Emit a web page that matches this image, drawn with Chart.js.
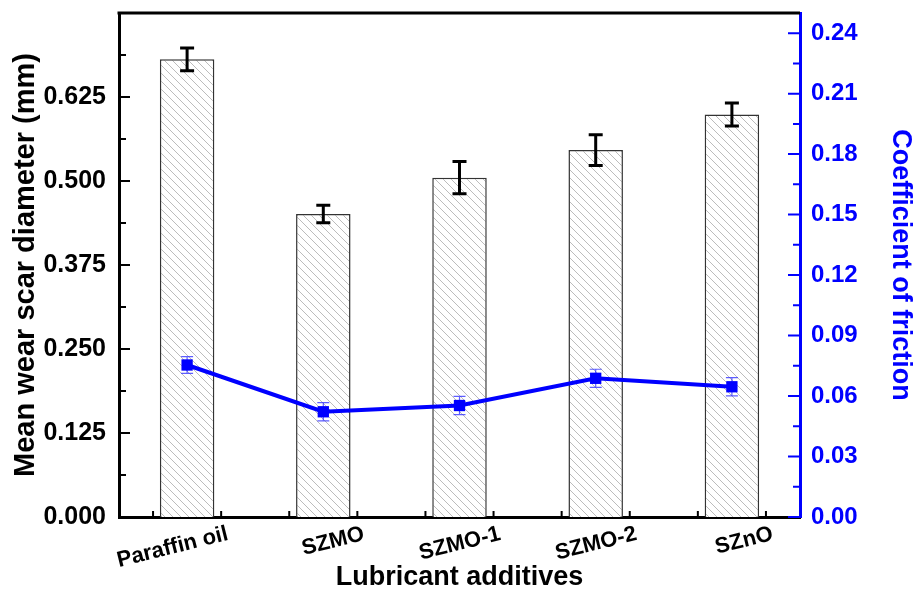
<!DOCTYPE html>
<html>
<head>
<meta charset="utf-8">
<script src="https://cdn.jsdelivr.net/npm/chart.js@4.4.1/dist/chart.umd.min.js"></script>
<style>
  html, body { margin: 0; padding: 0; background: #fff; }
  #wrap { width: 917px; height: 594px; }
</style>
</head>
<body>
<div id="wrap"><canvas id="wearChart"></canvas></div>
<script>
const additives = ['Paraffin oil', 'SZMO', 'SZMO-1', 'SZMO-2', 'SZnO'];
const scarDiameter = [0.681, 0.451, 0.505, 0.546, 0.599];
const scarError = [0.017, 0.013, 0.024, 0.023, 0.017];
const friction = [0.0754, 0.0522, 0.0553, 0.0688, 0.0646];
const frictionError = [0.0042, 0.0045, 0.0045, 0.0045, 0.0045];
const scarTicks = [0, 0.125, 0.25, 0.375, 0.5, 0.625];
const frictionTicks = [0, 0.03, 0.06, 0.09, 0.12, 0.15, 0.18, 0.21, 0.24];

const FONT = 'Arial, "Liberation Sans", sans-serif';
const BLUE = '#0000ff';

// diagonal hatch used to fill the bars
function hatch() {
  const n = 8;
  const c = document.createElement('canvas');
  c.width = n; c.height = n;
  const g = c.getContext('2d');
  g.fillStyle = '#fff';
  g.fillRect(0, 0, n, n);
  g.strokeStyle = '#b4b4b4';
  g.lineWidth = 0.9;
  g.beginPath();
  g.moveTo(-1, -1); g.lineTo(n + 1, n + 1);
  g.moveTo(-1, n - 1); g.lineTo(1, n + 1);
  g.moveTo(n - 1, -1); g.lineTo(n + 1, 1);
  g.stroke();
  return g.createPattern(c, 'repeat');
}

function fixedTicks(list) {
  return scale => { scale.ticks = list.map(v => ({ value: v })); };
}

// keep the plot box fixed, whatever the tick labels need
function fixSize(w, h) {
  return s => {
    if (w) s.width = w;
    if (h) s.height = h;
    s.paddingTop = 0; s.paddingBottom = 0;
    s.paddingLeft = 0; s.paddingRight = 0;
  };
}

const errorBars = {
  id: 'errorBars',
  afterDatasetDraw(chart, args) {
    if (args.index !== 0) return;
    const {ctx} = chart;
    const y = chart.scales.y;
    const meta = chart.getDatasetMeta(0);
    ctx.save();
    ctx.strokeStyle = '#000';
    ctx.lineWidth = 3;
    meta.data.forEach((bar, i) => {
      const top = y.getPixelForValue(scarDiameter[i] + scarError[i]);
      const bot = y.getPixelForValue(scarDiameter[i] - scarError[i]);
      ctx.beginPath();
      ctx.moveTo(bar.x, top); ctx.lineTo(bar.x, bot);
      ctx.moveTo(bar.x - 7, top); ctx.lineTo(bar.x + 7, top);
      ctx.moveTo(bar.x - 7, bot); ctx.lineTo(bar.x + 7, bot);
      ctx.stroke();
    });
    ctx.restore();
  },
  beforeDatasetDraw(chart, args) {
    if (args.index !== 1) return;
    const {ctx} = chart;
    const y1 = chart.scales.y1;
    const meta = chart.getDatasetMeta(1);
    ctx.save();
    ctx.strokeStyle = 'rgba(40,40,255,0.75)';
    ctx.lineWidth = 1.2;
    meta.data.forEach((pt, i) => {
      const top = y1.getPixelForValue(friction[i] + frictionError[i]);
      const bot = y1.getPixelForValue(friction[i] - frictionError[i]);
      ctx.beginPath();
      ctx.moveTo(pt.x, top); ctx.lineTo(pt.x, bot);
      ctx.moveTo(pt.x - 6, top); ctx.lineTo(pt.x + 6, top);
      ctx.moveTo(pt.x - 6, bot); ctx.lineTo(pt.x + 6, bot);
      ctx.stroke();
    });
    ctx.restore();
  }
};

// inward tick marks, frame top line and slanted category labels
const frame = {
  id: 'frame',
  afterDraw(chart) {
    const {ctx, chartArea: a, scales} = chart;
    const {x, y, y1} = scales;
    ctx.save();

    ctx.strokeStyle = '#000';
    ctx.lineWidth = 3;
    ctx.beginPath();
    ctx.moveTo(a.left - 1.5, a.top); ctx.lineTo(a.right, a.top);
    ctx.stroke();

    ctx.lineWidth = 2;
    ctx.beginPath();
    scarTicks.forEach(v => {
      const py = y.getPixelForValue(v);
      ctx.moveTo(a.left, py); ctx.lineTo(a.left + 11, py);
      if (v + 0.0625 < y.max) {
        const pm = y.getPixelForValue(v + 0.0625);
        ctx.moveTo(a.left, pm); ctx.lineTo(a.left + 7, pm);
      }
    });
    const step = x.getPixelForValue(1) - x.getPixelForValue(0);
    additives.forEach((_, i) => {
      [-0.25, 0.25].forEach(k => {
        const px = x.getPixelForValue(i) + k * step;
        ctx.moveTo(px, a.bottom); ctx.lineTo(px, a.bottom - 6);
      });
    });
    ctx.stroke();

    ctx.strokeStyle = BLUE;
    ctx.beginPath();
    frictionTicks.forEach(v => {
      const py = y1.getPixelForValue(v);
      ctx.moveTo(a.right, py); ctx.lineTo(a.right - 12, py);
      if (v + 0.015 < y1.max) {
        const pm = y1.getPixelForValue(v + 0.015);
        ctx.moveTo(a.right, pm); ctx.lineTo(a.right - 7, pm);
      }
    });
    ctx.stroke();

    ctx.fillStyle = '#000';
    ctx.font = 'bold 22px ' + FONT;
    ctx.textAlign = 'right';
    ctx.textBaseline = 'top';
    additives.forEach((name, i) => {
      const px = x.getPixelForValue(i);
      ctx.save();
      ctx.translate(px + 38, a.bottom + 6);
      ctx.rotate(-14 * Math.PI / 180);
      ctx.fillText(name, 0, 0);
      ctx.restore();
    });
    ctx.restore();
  }
};

const ctx = document.getElementById('wearChart').getContext('2d');
new Chart(ctx, {
  data: {
    labels: additives,
    datasets: [
      {
        type: 'bar',
        label: 'Mean wear scar diameter',
        data: scarDiameter,
        yAxisID: 'y',
        backgroundColor: hatch(),
        borderColor: '#333',
        borderWidth: 1.5,
        barPercentage: 0.4,
        categoryPercentage: 1,
        order: 1
      },
      {
        type: 'line',
        label: 'Coefficient of friction',
        data: friction,
        yAxisID: 'y1',
        borderColor: BLUE,
        borderWidth: 4,
        tension: 0,
        pointStyle: 'rect',
        pointRadius: 8,
        pointBackgroundColor: BLUE,
        pointBorderWidth: 0,
        order: 0
      }
    ]
  },
  options: {
    responsive: true,
    maintainAspectRatio: false,
    animation: false,
    layout: { padding: { top: 13, left: 0, right: 0, bottom: 0 } },
    plugins: { legend: { display: false }, tooltip: { enabled: false } },
    scales: {
      x: {
        offset: true,
        grid: { display: false, drawTicks: false },
        border: { display: true, color: '#000', width: 3 },
        ticks: { display: false },
        title: {
          display: true,
          text: 'Lubricant additives',
          color: '#000',
          font: { family: FONT, size: 27, weight: 'bold' },
          padding: { top: 0, bottom: 0 }
        },
        afterFit: fixSize(0, 77)
      },
      y: {
        position: 'left',
        min: 0,
        max: 0.75,
        grid: { display: false, drawTicks: false },
        border: { display: true, color: '#000', width: 3 },
        afterBuildTicks: fixedTicks(scarTicks),
        ticks: {
          color: '#000',
          padding: 13,
          font: { family: FONT, size: 25, weight: 'bold' },
          callback: v => v.toFixed(3)
        },
        title: {
          display: true,
          text: 'Mean wear scar diameter (mm)',
          color: '#000',
          font: { family: FONT, size: 29, weight: 'bold' },
          padding: { top: 9, bottom: 0 }
        },
        afterFit: fixSize(119, 0)
      },
      y1: {
        position: 'right',
        min: 0,
        max: 0.25,
        grid: { display: false, drawTicks: false },
        border: { display: true, color: BLUE, width: 3 },
        afterBuildTicks: fixedTicks(frictionTicks),
        ticks: {
          color: BLUE,
          padding: 11,
          font: { family: FONT, size: 24, weight: 'bold' },
          callback: v => v.toFixed(2)
        },
        title: {
          display: true,
          text: 'Coefficient of friction',
          color: BLUE,
          font: { family: FONT, size: 27, weight: 'bold' },
          padding: { top: 0, bottom: 0 }
        },
        afterFit: fixSize(117, 0)
      }
    }
  },
  plugins: [errorBars, frame]
});
</script>
</body>
</html>
